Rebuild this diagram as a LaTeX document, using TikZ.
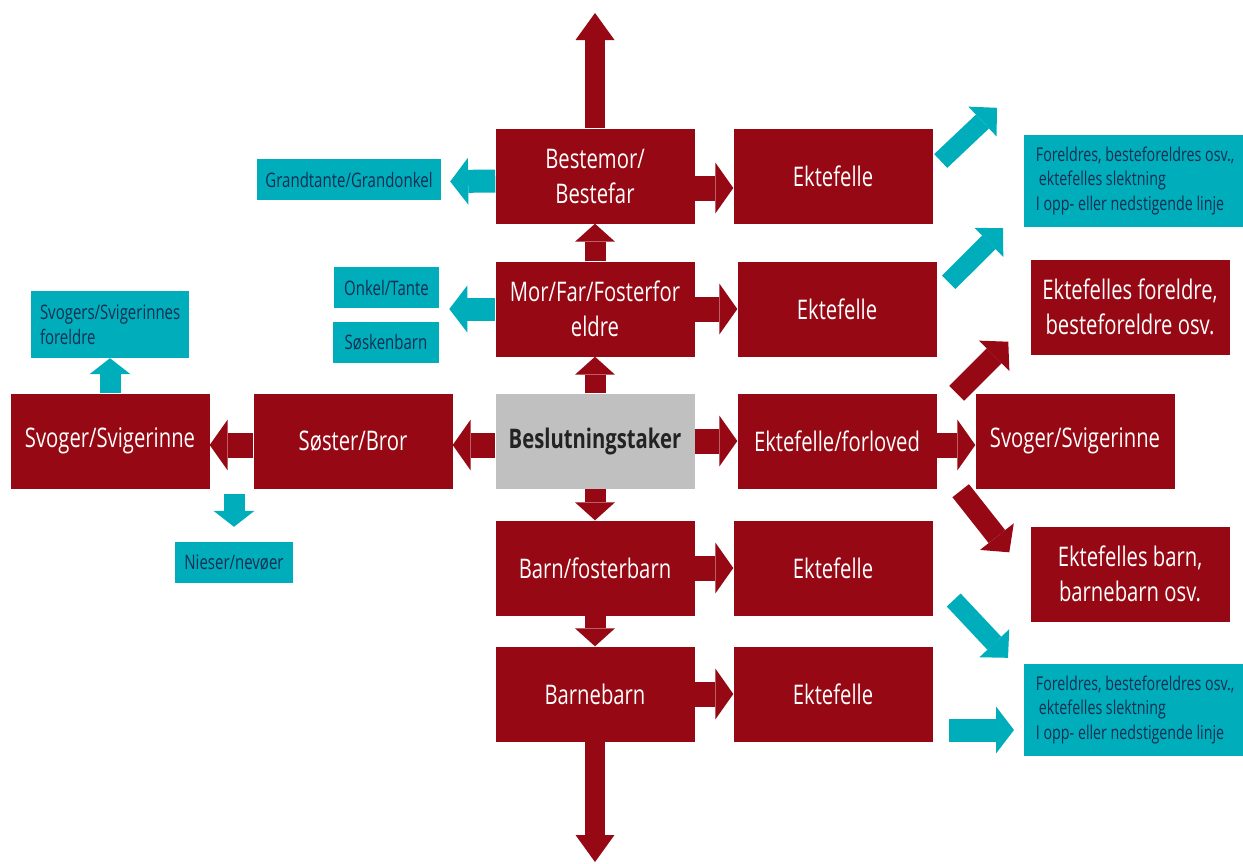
\documentclass[tikz,border=0pt]{standalone}
\usepackage{fontspec}
\setmainfont{Open Sans}[FakeStretch=0.75]
\usetikzlibrary{positioning,arrows.meta}
\definecolor{kinred}{RGB}{150,8,20}
\definecolor{kincyan}{RGB}{0,173,187}
\definecolor{kingray}{RGB}{191,192,191}
\definecolor{kinnavy}{RGB}{18,46,82}
\definecolor{kindark}{RGB}{35,35,35}
\tikzset{
  kin/.style={rectangle, fill=kinred, text=white, minimum width=199pt, minimum height=95pt,
    inner sep=0pt, align=center, font=\fontsize{27}{35}\selectfont},
  self/.style={kin, fill=kingray, text=kindark, font=\fontsize{27}{35}\selectfont\bfseries},
  side/.style={rectangle, fill=kincyan, text=kinnavy, inner sep=0pt, minimum height=41pt,
    font=\fontsize{20}{24.5}\selectfont},
  slekt/.style={side, anchor=west, minimum width=222pt, minimum height=92pt, align=left,
    font=\fontsize{19}{24.5}\selectfont},
  shaft/.style n args={3}{line width=#1, -{Triangle[length=#2,width=#3,line width=0pt]}},
  redh/.style={color=kinred, shaft={25pt}{18pt}{51pt}},
  redv/.style={color=kinred, shaft={21pt}{18pt}{40pt}},
  redlong/.style={color=kinred, shaft={20pt}{27pt}{39pt}},
  redd/.style={color=kinred, shaft={21pt}{20pt}{43pt}},
  cyanh/.style={color=kincyan, shaft={23pt}{18pt}{47pt}},
  cyanv/.style={color=kincyan, shaft={21pt}{16pt}{41pt}},
  cyand/.style={color=kincyan, shaft={19pt}{20pt}{41pt}}
}
\begin{document}
\begin{tikzpicture}[x=1pt,y=-1pt,on grid]
  \useasboundingbox (0,0) rectangle (1243,863);
  % centre column
  \node[self] (besl) at (595,441) {Beslutningstaker};
  \node[kin] (mor) [above=132pt of besl] {Mor/Far/Fosterfor\\eldre};
  \node[kin] (bestemor) [above=133pt of mor] {Bestemor/\\Bestefar};
  \node[kin] (barn) [below=127pt of besl] {Barn/fosterbarn};
  \node[kin] (barnebarn) [below=126pt of barn] {Barnebarn};
  % spouses
  \node[kin] (ekt1) [right=238pt of bestemor] {Ektefelle};
  \node[kin] (ekt2) [right=242pt of mor] {Ektefelle};
  \node[kin] (forlovet) [right=242pt of besl] {Ektefelle/forloved};
  \node[kin] (ekt3) [right=238pt of barn] {Ektefelle};
  \node[kin] (ekt4) [right=238pt of barnebarn] {Ektefelle};
  \node[kin] (svogerR) [right=238pt of forlovet] {Svoger/Svigerinne};
  \node[kin] (ektforeldre) at (1130,307) {Ektefelles foreldre,\\besteforeldre osv.};
  \node[kin] (ektbarn) at (1130,574) {Ektefelles barn,\\barnebarn osv.};
  % siblings
  \node[kin] (soster) [left=242pt of besl] {Søster/Bror};
  \node[kin] (svogerL) [left=243pt of soster] {Svoger/Svigerinne};
  % side relatives
  \node[side, minimum width=184pt] (grand) at (349,179.5) {Grandtante/Grandonkel};
  \node[side, minimum width=105pt] (onkel) at (386.5,287.5) {Onkel/Tante};
  \node[side, minimum width=106pt] (soskenbarn) at (386,342) {Søskenbarn};
  \node[side, minimum width=118pt] (nieser) at (234,562.5) {Nieser/nevøer};
  \node[side, text width=140pt, inner xsep=9pt, minimum height=67pt, align=left,
    font=\fontsize{20}{25}\selectfont] (svogforeldre) at (110,324.5) {Svogers/Svigerinnes\\foreldre};
  \node[slekt] (slektTop) at (1024,181) {Foreldres, besteforeldres osv.,\\\hspace*{3pt}ektefelles slektning\\I opp- eller nedstigende linje};
  \node[slekt] (slektBot) at (1024,710) {Foreldres, besteforeldres osv.,\\\hspace*{3pt}ektefelles slektning\\I opp- eller nedstigende linje};
  \coordinate (upend) at (595,13);
  \coordinate (downend) at (595,862);
  \coordinate (niesstart) at (234,494);
  % red arrows
  \path[redv]
  (besl) edge (mor)
  (mor) edge (bestemor)
  (besl) edge (barn)
  (barn) edge (barnebarn)
  ;
  \path[redlong]
  (bestemor) edge (upend)
  (barnebarn) edge (downend)
  ;
  \path[redh]
  ([yshift=-12pt]bestemor.east) edge ([yshift=-12pt]ekt1.west)
  (mor) edge (ekt2)
  (besl) edge (forlovet)
  (barn) edge (ekt3)
  (barnebarn) edge (ekt4)
  ([yshift=-4pt]besl.west) edge ([yshift=-4pt]soster.east)
  ([yshift=-4pt]soster.west) edge ([yshift=-4pt]svogerL.east)
  ([yshift=-4pt]forlovet.east) edge ([yshift=-4pt]svogerR.west)
  ;
  \path[redd]
  ([xshift=20pt]forlovet.north east) edge ([xshift=-22pt,yshift=13pt]ektforeldre.south west)
  ([xshift=24pt,yshift=-2pt]forlovet.south east) edge ([xshift=-21pt,yshift=-26pt]ektbarn.north west)
  ;
  % cyan arrows
  \path[cyanh]
  ([yshift=-5pt]bestemor.west) edge ([xshift=9pt,yshift=-2pt]grand.east)
  (mor.west) edge ([xshift=-46pt]mor.west)
  ([xshift=16pt,yshift=-36pt]ekt4.east) edge ([xshift=-10pt,yshift=-20pt]slektBot.west)
  ;
  \path[cyand]
  ([xshift=8pt,yshift=15pt]ekt1.east) edge ([xshift=-27pt,yshift=27pt]slektTop.north west)
  ([xshift=12pt,yshift=-21pt]ekt2.north east) edge ([xshift=-21pt,yshift=-1pt]slektTop.south west)
  ([xshift=21pt,yshift=-32pt]ekt3.east) edge ([xshift=-16pt,yshift=6pt]slektBot.north west)
  ;
  \path[cyanv]
  (svogerL) edge (svogforeldre)
  (niesstart) edge ([yshift=15pt]nieser.north)
  ;
\end{tikzpicture}
\end{document}
